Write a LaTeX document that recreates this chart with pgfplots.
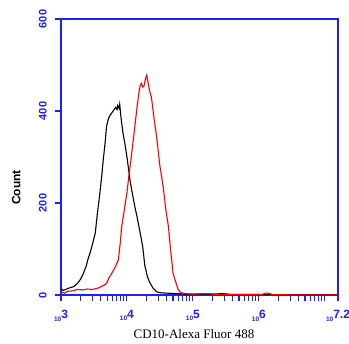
\documentclass[border=0pt]{standalone}
\usepackage{pgfplots}
\pgfplotsset{compat=1.18}
\usepackage{fontspec}
\setmainfont{Liberation Serif}
\setsansfont{Liberation Sans}
\definecolor{axblue}{RGB}{30,30,255}
\newcommand\tl[1]{{\fontsize{6.5}{6.5}\selectfont 10}\raisebox{2.5pt}{#1}}
\begin{document}
\begin{tikzpicture}
\useasboundingbox (-61pt,-49pt) rectangle (288pt,295pt);
\begin{axis}[
 at={(0,0)}, anchor=south west,
 width=277pt, height=276pt, scale only axis,
 xmin=3, xmax=7.2, ymin=0, ymax=600,
 axis line style={axblue, line width=1.3pt},
 tick pos=left,
 tick align=outside,
 major tick length=6pt, minor tick length=6pt,
 every tick/.style={axblue, line width=1.1pt},
 /pgf/number format/assume math mode=true,
 xtick={3,4,5,6,7,7.2},
 xticklabels={\tl{3},\tl{4},\tl{5},\tl{6},,\tl{7.2}},
 minor xtick={3.30103,3.47712,3.60206,3.69897,3.77815,3.84510,3.90309,3.95424,
 4.30103,4.47712,4.60206,4.69897,4.77815,4.84510,4.90309,4.95424,
 5.30103,5.47712,5.60206,5.69897,5.77815,5.84510,5.90309,5.95424,
 6.30103,6.47712,6.60206,6.69897,6.77815,6.84510,6.90309,6.95424},
 ytick={0,200,400,600},
 tick label style={font=\sffamily\bfseries\fontsize{11}{11}\selectfont, text=axblue},
 yticklabel style={rotate=90, anchor=south, inner sep=0pt, yshift=8pt},
 xticklabel style={anchor=north, inner sep=0pt, yshift=-9pt, font=\sffamily\bfseries\fontsize{12}{12}\selectfont},
 xlabel={CD10-Alexa Fluor 488},
 xlabel style={at={(rel axis cs:0.48,0)}, anchor=north, yshift=-31pt, font=\fontsize{13}{13}\selectfont},
 ylabel={Count},
 ylabel style={at={(rel axis cs:0,0.39)}, anchor=south, yshift=37pt, font=\sffamily\bfseries\fontsize{12}{12}\selectfont},
]
\addplot[black, line width=1.1pt] coordinates {
(3.00,14) (3.03,10) (3.07,12) (3.12,15) (3.19,18) (3.25,25) (3.30,35) (3.34,47)
(3.38,62) (3.41,78) (3.44,91) (3.48,112) (3.52,135) (3.55,175) (3.59,222) (3.62,262)
(3.64,293) (3.67,332) (3.69,366) (3.72,384) (3.75,392) (3.78,398) (3.81,404) (3.83,408)
(3.85,403) (3.86,412) (3.88,406) (3.89,415) (3.91,385) (3.94,352) (3.97,328) (4.00,300)
(4.02,279) (4.05,246) (4.08,222) (4.12,192) (4.15,172) (4.18,150) (4.21,128) (4.24,104)
(4.27,65) (4.31,40) (4.35,26) (4.40,14) (4.45,7) (4.50,5) (4.60,4) (4.75,3)
(4.90,2) (5.10,2) (5.30,2) (5.45,3) (5.60,1) (6.00,1) (6.50,0) (7.20,0)
};
\addplot[red, line width=1.1pt] coordinates {
(3.00,7) (3.05,4) (3.10,8) (3.18,9) (3.25,12) (3.33,11) (3.40,13) (3.48,12)
(3.56,15) (3.62,19) (3.66,22) (3.69,25) (3.73,38) (3.77,47) (3.82,60) (3.87,76)
(3.90,115) (3.92,148) (3.96,185) (4.00,222) (4.03,260) (4.06,293) (4.09,330) (4.12,366)
(4.15,405) (4.18,438) (4.20,455) (4.22,460) (4.24,452) (4.26,455) (4.28,470) (4.30,478)
(4.32,462) (4.35,440) (4.37,431) (4.41,385) (4.45,344) (4.50,280) (4.55,235) (4.59,185)
(4.63,148) (4.66,100) (4.70,47) (4.74,28) (4.78,11) (4.82,5) (4.90,3) (5.00,2)
(5.15,3) (5.25,3) (5.35,1) (5.60,1) (6.05,1) (6.10,4) (6.15,4) (6.20,1) (6.60,0) (7.20,0)
};
\end{axis}
\end{tikzpicture}
\end{document}
